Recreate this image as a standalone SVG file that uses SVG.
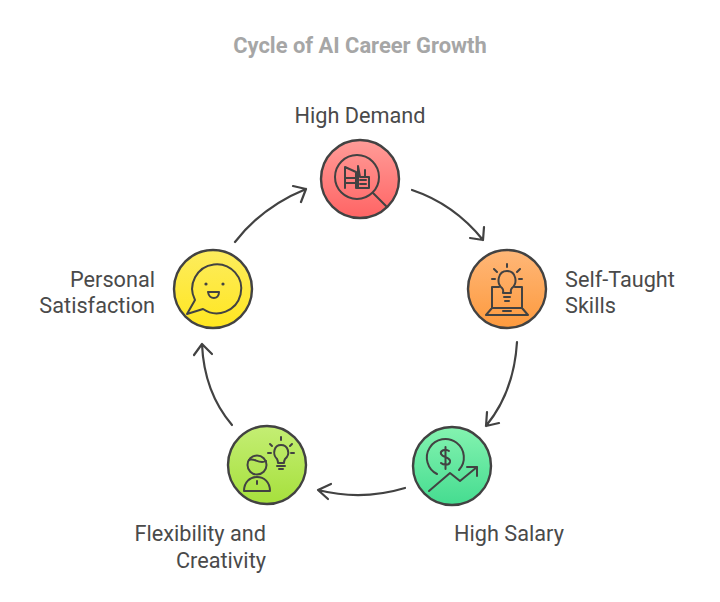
<svg xmlns="http://www.w3.org/2000/svg" width="720" height="602" viewBox="0 0 720 602">
<style>
.l{font-family:Roboto,"Liberation Sans",sans-serif;font-size:21.7px;fill:#4a4a4a}
.t{font-family:Roboto,"Liberation Sans",sans-serif;font-size:21.9px;font-weight:700;fill:#a6a6a6}
.c{stroke:#424242;stroke-width:2.4}
.i{fill:none;stroke:#424242;stroke-width:2;stroke-linecap:round;stroke-linejoin:round}
.a{fill:none;stroke:#424242;stroke-width:2.2;stroke-linecap:round;stroke-linejoin:round}
</style>
<defs>
<linearGradient id="r" x1="0" y1="0" x2="0" y2="1"><stop offset="0" stop-color="#ff9c98"/><stop offset="1" stop-color="#ff6464"/></linearGradient>
<linearGradient id="o" x1="0" y1="0" x2="0" y2="1"><stop offset="0" stop-color="#ffb778"/><stop offset="1" stop-color="#fd9a3e"/></linearGradient>
<linearGradient id="g" x1="0" y1="0" x2="0" y2="1"><stop offset="0" stop-color="#84f3b0"/><stop offset="1" stop-color="#45dc90"/></linearGradient>
<linearGradient id="l" x1="0" y1="0" x2="0" y2="1"><stop offset="0" stop-color="#c4ee74"/><stop offset="1" stop-color="#a6e03c"/></linearGradient>
<linearGradient id="y" x1="0" y1="0" x2="0" y2="1"><stop offset="0" stop-color="#fdec5e"/><stop offset="1" stop-color="#ffe620"/></linearGradient>
</defs>
<text class="t" x="360" y="53" text-anchor="middle">Cycle of AI Career Growth</text>
<g id="connectors">
<path class="a" d="M412 190Q454 204 483 240M470 238L483 240L484 227"/>
<path class="a" d="M517 342Q514 392 486 426M487 412L486 426L499 423"/>
<path class="a" d="M405 488Q362 501 318 490M331 484L318 490L328 499"/>
<path class="a" d="M232 425Q204 392 202 344M194 355L202 344L212 354"/>
<path class="a" d="M235 242Q262 207 306 189M293 186L306 189L301 202"/>
</g>
<g id="node-high-demand">
<circle class="c" cx="360" cy="179" r="39" fill="url(#r)"/>
<circle class="i" cx="357" cy="177" r="22"/>
<path class="i" d="M373 193L386 206M345 188V167L356 172V188M345 178H356M345 183H356M356 188H369V177H365V170M358 188V166L360 177H365M360 180H366M360 184H366"/>
<text class="l" x="360" y="123" text-anchor="middle">High Demand</text>
</g>
<g id="node-self-taught">
<circle class="c" cx="507" cy="289" r="39" fill="url(#o)"/>
<path class="i" d="M502 288C496 283 498 271 507 271C516 271 518 283 512 288C510 290 511 291 511 293H503C503 291 504 290 502 288ZM504 297H510M505 301H509M507 264V267M494 269L497 272M520 269L517 272M492 279H495M519 279H522M499 287H492V308M515 287H522V308M492 308L486 315H528L522 308M492 308H522M503 311H511"/>
<text class="l" x="565" y="287">Self-Taught</text>
<text class="l" x="565" y="313">Skills</text>
</g>
<g id="node-high-salary">
<circle class="c" cx="452" cy="466" r="39" fill="url(#g)"/>
<path class="i" d="M437 474A18.5 18.500 0 1 1 459 470M449 451C445 448 440 451 441 454C443 458 451 457 450 462C449 466 443 465 441 463M445.500 447V469M429 491L450 473L460 481L477 467M467 467H477V476"/>
<text class="l" x="509" y="541" text-anchor="middle">High Salary</text>
</g>
<g id="node-flexibility">
<circle class="c" cx="267" cy="465" r="39" fill="url(#l)"/>
<path class="i" d="M277 459C272 454 274 445 281 445C288 445 291 454 285 459C284 461 284 462 284 463H278C278 462 278 461 277 459ZM277 466H285M279 469H283M281 440V437M270 444L272 446M292 444L290 446M268 453H271M291 453H294"/>
<circle class="i" cx="257" cy="465" r="9.500"/>
<path class="i" d="M249 460C254 457 259 465 266 461M244 491C244 482 250 477 257 477C264 477 270 482 270 491ZM257 481V484"/>
<text class="l" x="266" y="541" text-anchor="end">Flexibility and</text>
<text class="l" x="266" y="568" text-anchor="end">Creativity</text>
</g>
<g id="node-satisfaction">
<circle class="c" cx="213" cy="289" r="39" fill="url(#y)"/>
<path class="i" d="M187 314L195 300A24.500 24.500 0 1 1 203 309Z"/>
<circle cx="206" cy="284" r="1.600" fill="#424242"/><circle cx="223" cy="284" r="1.600" fill="#424242"/>
<path class="i" d="M208 292H219C219 300 209 300 208 292Z"/>
<text class="l" x="155" y="287" text-anchor="end">Personal</text>
<text class="l" x="155" y="313" text-anchor="end">Satisfaction</text>
</g>
</svg>
